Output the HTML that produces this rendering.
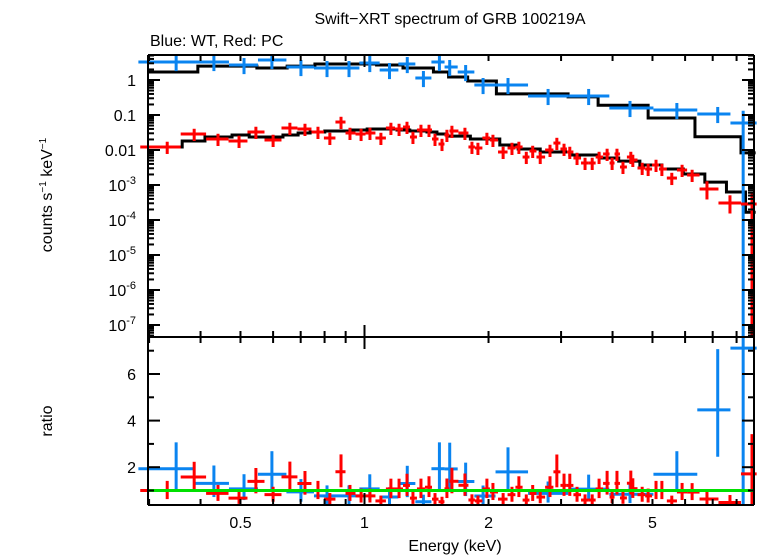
<!DOCTYPE html>
<html><head><meta charset="utf-8"><style>
body{margin:0;background:#fff;}
svg{display:block;font-family:"Liberation Sans",sans-serif;}
</style></head><body>
<svg id="c" width="758" height="556" xmlns="http://www.w3.org/2000/svg">
<text x="450" y="24" font-size="16" text-anchor="middle">Swift−XRT spectrum of GRB 100219A</text>
<text x="150" y="46" font-size="16">Blue: WT, Red: PC</text>
<text transform="translate(52,195) rotate(-90)" font-size="16" text-anchor="middle">counts s<tspan font-size="10" dy="-6">−1</tspan><tspan dy="6"> keV</tspan><tspan font-size="10" dy="-6">−1</tspan></text>
<text transform="translate(52,421) rotate(-90)" font-size="16" text-anchor="middle">ratio</text>
<text x="455" y="551" font-size="16" text-anchor="middle">Energy (keV)</text>
<g id="g"></g>
</svg>
<script>
// WT (blue) data: energy, flux
const wtE=[0.349,0.431,0.51,0.596,0.701,0.811,0.917,1.03,1.15,1.27,1.39,1.52,1.61,1.76,1.94,2.23,2.79,3.5,4.41,5.73,7.2,8.3];
const wtF=[3.27,3.27,2.68,3.73,2.35,2.2,2.2,3.06,1.93,2.86,1.14,3.27,2.35,1.69,0.72,0.72,0.35,0.35,0.159,0.139,0.107,0.059];
// WT model steps
const wtMEdges=[0.298,0.394,0.548,0.649,0.758,1.07,1.24,1.47,1.6,1.78,2.09,3.12,3.69,4.88,6.34,8.2,8.9];
const wtMVal=[1.69,2.5,2.2,2.5,2.86,2.68,2.2,1.69,1.22,0.94,0.40,0.33,0.19,0.082,0.024,0.0083];
// PC (red) data
const pcE=[0.332,0.386,0.441,0.496,0.545,0.600,0.659,0.717,0.771,0.824,0.877,0.922,0.981,1.031,1.096,1.159,1.213,1.268,1.311,1.371,1.434,1.483,1.542,1.585,1.630,1.753,1.823,1.885,1.982,2.05,2.17,2.28,2.37,2.47,2.56,2.67,2.82,2.93,3.05,3.15,3.28,3.43,3.57,3.71,3.88,3.99,4.10,4.24,4.43,4.48,4.72,4.88,5.10,5.27,5.57,5.90,6.24,6.78,7.71,8.72];
const pcF=[0.0122,0.0286,0.0206,0.0181,0.0327,0.0193,0.0425,0.0398,0.0327,0.022,0.063,0.0306,0.0286,0.0306,0.022,0.0425,0.0398,0.0454,0.0235,0.0373,0.0373,0.0206,0.0148,0.0268,0.0349,0.0306,0.0122,0.0114,0.022,0.0193,0.00877,0.0114,0.0122,0.0063,0.00936,0.0063,0.01,0.0158,0.0107,0.00877,0.0059,0.00425,0.00425,0.0063,0.0077,0.00425,0.0077,0.00327,0.0063,0.00518,0.00306,0.00286,0.00373,0.00286,0.00158,0.00268,0.00193,0.00077,0.000306,0.000286];
// PC model steps
const pcMEdges=[0.298,0.361,0.410,0.477,0.525,0.634,0.690,0.738,0.801,0.936,1.015,1.199,1.288,1.418,1.499,1.585,1.807,2.13,2.36,2.67,3.15,3.71,4.14,4.66,5.27,5.94,6.70,7.56,8.41,8.9];
const pcMVal=[0.0122,0.0181,0.0235,0.0268,0.0235,0.0268,0.0306,0.0327,0.0349,0.0373,0.0398,0.0373,0.0349,0.0327,0.0286,0.025,0.0206,0.0139,0.0107,0.00877,0.0072,0.0059,0.0048,0.00373,0.00286,0.00207,0.00121,0.00063,0.000167];
const xTicks=[0.5,1,2,5];
const xTickLabels=["0.5","1","2","5"];
const yTopTicks=[0,-1,-2,-3,-4,-5,-6,-7];
const yTopLabels=["1","0.1","0.01","10|-3","10|-4","10|-5","10|-6","10|-7"];
const yBotTicks=[2,4,6];

const L=148,R=754,T=55,M=337,B=505;
const X=e=>364.5+412*Math.log10(e);
const YT=v=>Math.min(M,Math.max(T,80-35*Math.log10(v)));
const YB=r=>Math.min(B,Math.max(M,490.5-(r-1)*23.3));
const g=document.getElementById('g');
const NS="http://www.w3.org/2000/svg";
function mk(t,a){const e=document.createElementNS(NS,t);for(const k in a)e.setAttribute(k,a[k]);g.appendChild(e);return e;}
function line(x1,y1,x2,y2,c,w,name){const e=mk('line',{x1,y1,x2,y2,stroke:c,'stroke-width':w});

return e;}
function modelAt(edges,vals,e){for(let i=0;i<vals.length;i++)if(e>=edges[i]&&e<edges[i+1])return vals[i];return vals[vals.length-1];}
function stepPath(edges,vals,Y){let d='';for(let i=0;i<vals.length;i++){const y=Y(vals[i]);d+=(i?'L':'M')+X(edges[i])+','+y+'L'+X(edges[i+1])+','+y;}return d;}
function crosses(E,F,color,name,mEdges,mVals,errDex){
 for(let i=0;i<E.length;i++){
  const lo=i?Math.sqrt(E[i]*E[i-1]):E[i]*E[i]/E[i+1];
  const hi=i<E.length-1?Math.sqrt(E[i]*E[i+1]):Math.min(8.95,E[i]*E[i]/E[i-1]);
  const ed=errDex(i,E.length);
  const f=F[i],m=modelAt(mEdges,mVals,E[i]),r=f/m;
  line(X(lo),YT(f),X(hi),YT(f),color,3,name+'-point-xerr');
  line(X(E[i]),YT(f*Math.pow(10,ed[1])),X(E[i]),ed[0]>5?M:YT(f/Math.pow(10,ed[0])),color,3,name+'-point-yerr');
  line(X(lo),YB(r),X(hi),YB(r),color,3,name+'-ratio-xerr');
  line(X(E[i]),YB(r*Math.pow(10,ed[1])),X(E[i]),ed[0]>5?B:YB(r/Math.pow(10,ed[0])),color,3,name+'-ratio-yerr');
 }
}
const pm=mk('path',{d:stepPath(wtMEdges,wtMVal,YT),fill:'none',stroke:'#000','stroke-width':3});


const pm2=mk('path',{d:stepPath(pcMEdges,pcMVal,YT),fill:'none',stroke:'#000','stroke-width':3});


crosses(wtE,wtF,'#0a84f0','wt',wtMEdges,wtMVal,(i,n)=>i==n-1?[9,0.35]:[0.26,0.2]);
crosses(pcE,pcF,'#f00','pc',pcMEdges,pcMVal,(i,n)=>i==n-1?[9,0.3]:(i>n-4?[0.3,0.22]:[0.2,0.15]));
line(L,YB(1),R,YB(1),'#00e000',3,'unity-ratio-line');
// frame
[[L,T,R,T],[L,M,R,M],[L,B,R,B],[L,T,L,B],[R,T,R,B]].forEach(a=>line(a[0],a[1],a[2],a[3],'#000',2,'axis-frame'));
// x ticks
for(let d=-1;d<=0;d++)for(let k=1;k<=9;k++){const e=k*Math.pow(10,d);if(e<0.3||e>8.9)continue;const x=X(e);const len=(k==1)?12:6;
 [T,M].forEach(y=>line(x,y,x,y+len,'#000',2,'x-tick'));[M,B].forEach(y=>line(x,y,x,y-len,'#000',2,'x-tick'));}
xTicks.forEach((t,i)=>{const e=mk('text',{x:X(t),y:528,'font-size':16,'text-anchor':'middle'});e.textContent=xTickLabels[i];

});
// top y ticks
for(let d=-8;d<=0;d++)for(let k=1;k<=9;k++){const v=k*Math.pow(10,d);const y=80-35*Math.log10(v);if(y<T||y>M)continue;const len=k==1?12:6;
 line(L,y,L+len,y,'#000',2,'y-tick');line(R,y,R-len,y,'#000',2,'y-tick');}
yTopTicks.forEach((t,i)=>{const y=80-35*t;const p=yTopLabels[i].split('|');const e=mk('text',{x:136,y:y+6,'font-size':16,'text-anchor':'end'});
 if(p.length>1){e.innerHTML=p[0]+'<tspan font-size="11" dy="-7">'+p[1]+'</tspan>';}else e.textContent=p[0];

});
for(let r=1;r<=7;r++){const y=YB(r);const len=r%2==0?12:6;line(L,y,L+len,y,'#000',2,'ratio-tick');line(R,y,R-len,y,'#000',2,'ratio-tick');}
yBotTicks.forEach(t=>{const e=mk('text',{x:136,y:YB(t)+6,'font-size':16,'text-anchor':'end'});e.textContent=t;

});
</script>
</body></html>
